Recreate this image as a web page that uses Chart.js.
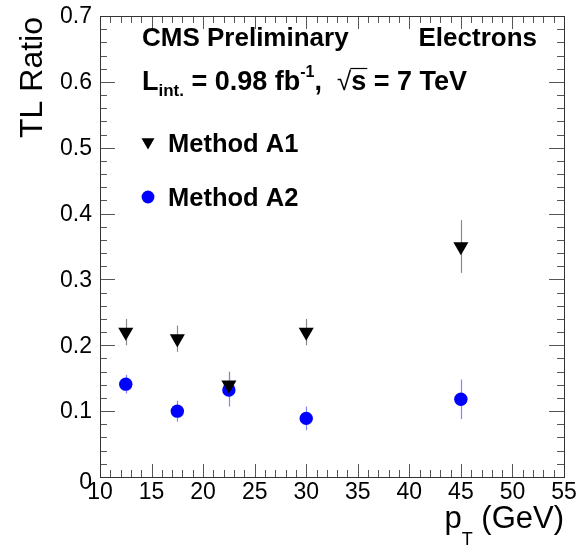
<!DOCTYPE html>
<html>
<head>
<meta charset="utf-8">
<script src="https://cdn.jsdelivr.net/npm/chart.js@4.4.1/dist/chart.umd.min.js"></script>
<style>
  body { margin: 0; background: #fff; }
</style>
</head>
<body>
<canvas id="tlChart" width="578" height="547"></canvas>
<script>
// pT bin centres (GeV)
const ptBins = [12.5, 17.5, 22.5, 30, 45];
// Method A1 (triangles)
const a1Ratio = [0.22, 0.21, 0.14, 0.22, 0.35];
const a1Err = [0.02, 0.02, 0.02, 0.02, 0.04];
// Method A2 (blue circles)
const a2Ratio = [0.141, 0.100, 0.132, 0.089, 0.118];
const a2Err = [0.014, 0.016, 0.025, 0.018, 0.03];

const xTicks = ["10", "15", "20", "25", "30", "35", "40", "45", "50", "55"];
const yTicks = ["0", "0.1", "0.2", "0.3", "0.4", "0.5", "0.6", "0.7"];

const FONT = '"Liberation Sans", Arial, sans-serif';
const canvas = document.querySelector("#tlChart");

const toPoints = (ys) => ptBins.map((x, i) => ({ x: x, y: ys[i] }));

// error bars, drawn under the markers
const errorBars = {
  id: "errorBars",
  beforeDatasetsDraw(chart) {
    const ctx = chart.ctx;
    const xs = chart.scales.x;
    const ys = chart.scales.y;
    const sets = [
      { val: a1Ratio, err: a1Err, color: "#8a8a8a" },
      { val: a2Ratio, err: a2Err, color: "#7f86ff" },
    ];
    ctx.save();
    ctx.lineWidth = 1.2;
    sets.forEach((s) => {
      ctx.strokeStyle = s.color;
      ptBins.forEach((x, i) => {
        const px = Math.round(xs.getPixelForValue(x)) + 0.5;
        ctx.beginPath();
        ctx.moveTo(px, ys.getPixelForValue(s.val[i] + s.err[i]));
        ctx.lineTo(px, ys.getPixelForValue(s.val[i] - s.err[i]));
        ctx.stroke();
      });
    });
    ctx.restore();
  },
};

// ROOT style frame: ticks inside, on all four sides, labels and titles
const rootFrame = {
  id: "rootFrame",
  afterDraw(chart) {
    const ctx = chart.ctx;
    const a = chart.chartArea;
    const xs = chart.scales.x;
    const ys = chart.scales.y;
    ctx.save();
    ctx.strokeStyle = "#555";
    ctx.lineWidth = 1;

    // x ticks (major every 5, minor every 1)
    for (let v = 10; v <= 55; v++) {
      const px = Math.round(xs.getPixelForValue(v)) + 0.5;
      const len = v % 5 === 0 ? 13 : 7;
      ctx.beginPath();
      ctx.moveTo(px, a.bottom);
      ctx.lineTo(px, a.bottom - len);
      ctx.moveTo(px, a.top);
      ctx.lineTo(px, a.top + len);
      ctx.stroke();
    }
    // y ticks (major every 0.1, minor every 0.02)
    for (let k = 0; k <= 35; k++) {
      const py = Math.round(ys.getPixelForValue(k * 0.02)) + 0.5;
      const len = k % 5 === 0 ? 15 : 7;
      ctx.beginPath();
      ctx.moveTo(a.left, py);
      ctx.lineTo(a.left + len, py);
      ctx.moveTo(a.right, py);
      ctx.lineTo(a.right - len, py);
      ctx.stroke();
    }
    // frame
    ctx.strokeStyle = "#333";
    ctx.strokeRect(Math.round(a.left) + 0.5, Math.round(a.top) + 0.5,
      Math.round(a.right - a.left), Math.round(a.bottom - a.top));

    // tick labels
    ctx.fillStyle = "#000";
    ctx.font = "23px " + FONT;
    ctx.textAlign = "center";
    ctx.textBaseline = "top";
    xTicks.forEach((t) => {
      ctx.fillText(t, xs.getPixelForValue(parseFloat(t)), a.bottom + 4);
    });
    ctx.textAlign = "right";
    ctx.textBaseline = "middle";
    yTicks.forEach((t) => {
      let py = ys.getPixelForValue(parseFloat(t)) + 1;
      if (t === "0") py += 5;
      ctx.fillText(t, a.left - 8, py);
    });

    // axis titles
    ctx.textBaseline = "alphabetic";
    ctx.textAlign = "right";
    ctx.font = "31px " + FONT;
    const gev = " (GeV)";
    ctx.fillText(gev, a.right, 528);
    const gevW = ctx.measureText(gev).width;
    ctx.font = "18px " + FONT;
    const tW = ctx.measureText("T").width;
    ctx.fillText("T", a.right - gevW, 545);
    ctx.font = "31px " + FONT;
    ctx.fillText("p", a.right - gevW - tW, 528);

    ctx.save();
    ctx.translate(42, 17);
    ctx.rotate(-Math.PI / 2);
    ctx.textAlign = "right";
    ctx.font = "32px " + FONT;
    ctx.fillText("TL Ratio", 0, 0);
    ctx.restore();

    // header texts
    ctx.textAlign = "left";
    ctx.font = "bold 26px " + FONT;
    ctx.fillText("CMS Preliminary", 142, 46);
    ctx.textAlign = "right";
    ctx.fillText("Electrons", 537, 46);

    ctx.textAlign = "left";
    let x = 142;
    const put = (txt, size, y) => {
      ctx.font = "bold " + size + "px " + FONT;
      ctx.fillText(txt, x, y);
      x += ctx.measureText(txt).width;
    };
    put("L", 27, 90);
    put("int.", 17, 96);
    put(" = 0.98 fb", 27, 90);
    put("-1", 16, 77);
    put(",  ", 27, 90);
    // square root sign
    ctx.font = "26px " + FONT;
    ctx.fillText("\u221A", x, 90);
    x += ctx.measureText("\u221A").width;
    ctx.lineWidth = 1.2;
    ctx.strokeStyle = "#000";
    ctx.beginPath();
    ctx.moveTo(x - 1, 68.5);
    ctx.lineTo(x + 16, 68.5);
    ctx.stroke();
    put("s = 7 TeV", 27, 90);

    // legend
    ctx.fillStyle = "#000";
    Chart.helpers.drawPoint(ctx, {
      pointStyle: "triangle", rotation: 180, radius: 7.5,
    }, 148, 142);
    ctx.fillStyle = "#0000ff";
    ctx.beginPath();
    ctx.arc(148, 197, 6.4, 0, Math.PI * 2);
    ctx.fill();
    ctx.fillStyle = "#000";
    ctx.font = "bold 25.5px " + FONT;
    ctx.textAlign = "left";
    ctx.fillText("Method A1", 168, 152);
    ctx.fillText("Method A2", 168, 206);
    ctx.restore();
  },
};

new Chart(canvas, {
  type: "scatter",
  data: {
    datasets: [
      {
        label: "Method A1",
        data: toPoints(a1Ratio),
        pointStyle: "triangle",
        rotation: 180,
        pointRadius: 8.7,
        backgroundColor: "#000",
        borderColor: "#000",
        borderWidth: 0,
      },
      {
        label: "Method A2",
        data: toPoints(a2Ratio),
        pointStyle: "circle",
        pointRadius: 6.7,
        backgroundColor: "#0000ff",
        borderColor: "#0000ff",
        borderWidth: 0,
      },
    ],
  },
  options: {
    responsive: false,
    animation: false,
    layout: { padding: { left: 100, right: 14, top: 16, bottom: 70 } },
    scales: {
      x: { type: "linear", min: 10, max: 55, display: false },
      y: { min: 0, max: 0.7, display: false },
    },
    plugins: {
      legend: { display: false },
      tooltip: { enabled: false },
    },
  },
  plugins: [errorBars, rootFrame],
});
</script>
</body>
</html>
